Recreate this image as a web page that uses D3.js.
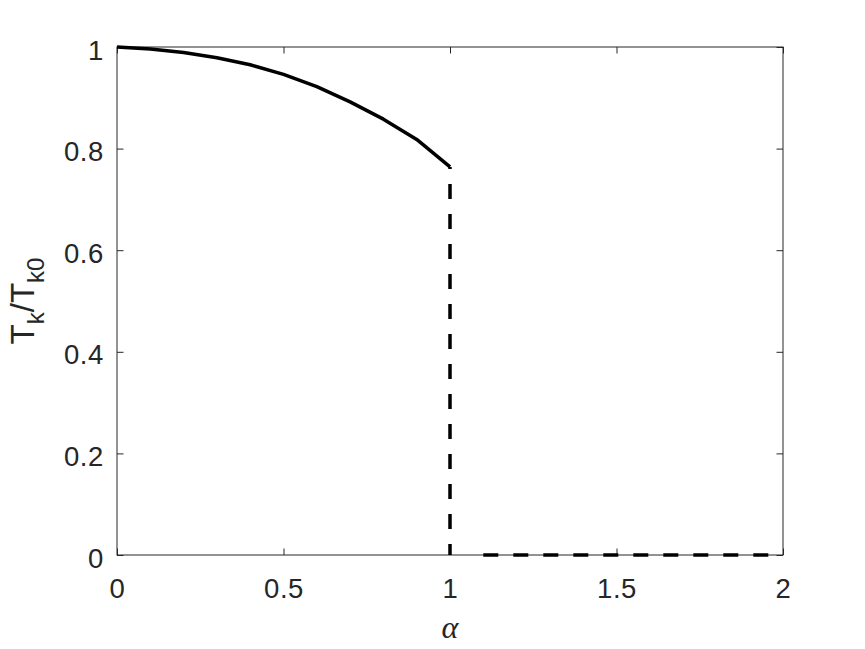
<!DOCTYPE html>
<html><head><meta charset="utf-8">
<script src="https://cdn.jsdelivr.net/npm/d3@7"></script>
<style>html,body{margin:0;padding:0;background:#fff;}svg{display:block;}</style>
</head><body>
<script>
// Data
const alpha = [0, 0.1, 0.2, 0.3, 0.4, 0.5, 0.6, 0.7, 0.8, 0.9, 1.0];
const tkRatio = [1.0, 0.996, 0.989, 0.979, 0.965, 0.946, 0.922, 0.892, 0.858, 0.818, 0.764];
const jumpX = [1, 1];
const jumpY = [0.764, 0];
const zeroX = [1.1, 2];
const zeroY = [0, 0];
const xTicks = [0, 0.5, 1, 1.5, 2];
const xTickLabels = ["0", "0.5", "1", "1.5", "2"];
const yTicks = [0, 0.2, 0.4, 0.6, 0.8, 1];
const yTickLabels = ["0", "0.2", "0.4", "0.6", "0.8", "1"];

const W = 865, H = 649;
const m = {left: 117, right: 82, top: 47, bottom: 94};
const iw = W - m.left - m.right, ih = H - m.top - m.bottom;

const svg = d3.select("body").append("svg").attr("width", W).attr("height", H);
const g = svg.append("g").attr("transform", `translate(${m.left},${m.top})`);

const x = d3.scaleLinear().domain([0, 2]).range([0, iw]);
const y = d3.scaleLinear().domain([0, 1]).range([ih, 0]);

const axisColor = "#262626";
const tickFont = "'Liberation Sans', Arial, sans-serif";
const tickLen = 6.5;

// box
g.append("rect").attr("x", 0).attr("y", 0).attr("width", iw).attr("height", ih)
  .attr("fill", "none").attr("stroke", axisColor).attr("stroke-width", 1);

// axes with inward ticks
const xb = g.append("g").attr("transform", `translate(0,${ih})`)
  .call(d3.axisBottom(x).tickValues(xTicks).tickSize(-tickLen).tickPadding(0).tickFormat((d, i) => xTickLabels[i]));
const xt = g.append("g").call(d3.axisTop(x).tickValues(xTicks).tickSize(-tickLen).tickFormat(""));
const yl = g.append("g").call(d3.axisLeft(y).tickValues(yTicks).tickSize(-tickLen).tickPadding(0).tickFormat((d, i) => yTickLabels[i]));
const yr = g.append("g").attr("transform", `translate(${iw},0)`)
  .call(d3.axisRight(y).tickValues(yTicks).tickSize(-tickLen).tickFormat(""));

[xb, xt, yl, yr].forEach(a => {
  a.select(".domain").remove();
  a.selectAll(".tick line").attr("stroke", axisColor).attr("stroke-width", 1);
});
xb.selectAll(".tick text").attr("y", 0).attr("dy", null).attr("transform", "translate(0,42.5)")
  .attr("font-family", tickFont).attr("font-size", 27.5).attr("letter-spacing", 0.6).attr("fill", "#262626");
yl.selectAll(".tick text").attr("x", -13).attr("dy", null).attr("transform", "translate(0,12)")
  .attr("font-family", tickFont).attr("font-size", 27.5).attr("letter-spacing", 0.6).attr("fill", "#262626");

// curve
const line = d3.line().x(d => x(d[0])).y(d => y(d[1]));
g.append("path").datum(alpha.map((a, i) => [a, tkRatio[i]]))
  .attr("d", line).attr("fill", "none").attr("stroke", "#000").attr("stroke-width", 3.5)
  .attr("stroke-linejoin", "round");

g.append("path").datum(jumpX.map((a, i) => [a, jumpY[i]]))
  .attr("d", line).attr("fill", "none").attr("stroke", "#000").attr("stroke-width", 3.5)
  .attr("stroke-dasharray", "15,15").attr("stroke-dashoffset", 13);

g.append("path").datum(zeroX.map((a, i) => [a, zeroY[i]]))
  .attr("d", line).attr("fill", "none").attr("stroke", "#000").attr("stroke-width", 3.5)
  .attr("stroke-dasharray", "15,15");

// x label
svg.append("text").attr("x", m.left + iw / 2).attr("y", 638).attr("text-anchor", "middle")
  .attr("font-family", "'Liberation Serif', 'Times New Roman', serif").attr("font-style", "italic")
  .attr("font-size", 32).attr("fill", "#262626").text("α");

// y label
const yt = svg.append("text").attr("transform", `translate(34,${m.top + ih / 2}) rotate(-90)`)
  .attr("text-anchor", "middle").attr("font-family", tickFont).attr("font-size", 33).attr("fill", "#262626");
yt.append("tspan").text("T");
yt.append("tspan").attr("font-size", 24).attr("dy", 10).text("k");
yt.append("tspan").attr("dy", -10).text("/T");
yt.append("tspan").attr("font-size", 24).attr("dy", 10).text("k0");
</script>
</body></html>
